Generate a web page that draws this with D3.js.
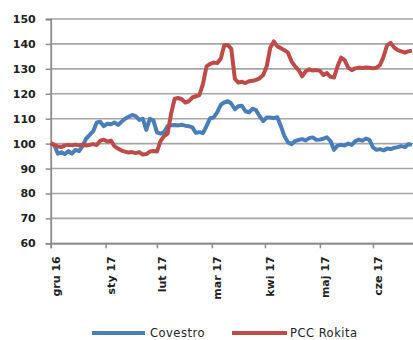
<!DOCTYPE html>
<html><head><meta charset="utf-8">
<script src="https://cdn.jsdelivr.net/npm/d3@7/dist/d3.min.js"></script>
<style>body{margin:0;background:#fff}svg{display:block}</style>
</head><body>
<svg id="c" width="413" height="340"></svg>
<script>
// day index sampled every 2 days from first session (gru 16)
const dayStep = 2;
const covestro = [100,99.5,96,96.5,95.8,97,96,97.5,97,99,102,103.5,105,108.5,108.8,107,108,107.8,108.5,107.5,108.8,110,110.8,111.5,111,109.5,110,105.5,110,109.3,104.5,104,104.6,107,107.4,107.5,107.3,107.6,107.2,107,106.5,104.3,104.6,104.2,107,110.2,110.5,112.5,115.5,116.5,117,116,113.8,115,115.2,113,112.6,114,113.4,111,109,110.5,110.5,110.2,110.6,107,103,100.5,99.8,101,101.5,101.8,101.3,102.2,102.5,101.5,101.6,102,102.5,101,97.5,99.2,99.5,99.2,100,99.5,101,101.6,101.2,102,101.5,98.5,97.5,97.8,97.3,98,97.8,98.3,98.6,99,98.6,99.8,99.5];
const pccRokita = [100.2,99.5,98.8,98.6,99.3,99.5,99.3,99.6,99.3,99.6,99.2,99.5,99.8,99.4,101.2,101.6,100.8,101.2,99,98,97.2,96.8,96.4,96.6,96.2,96.6,95.6,95.8,96.8,97,96.8,101,103,104,112,118,118.3,117.8,116.5,117,118.5,119,119.5,124,131,132,132.5,132.3,134,139.5,139.6,138,126,124.5,124.8,124.3,125,125.2,125.6,126.2,127.5,131,138.5,141,139,138.3,137.5,136.5,133,131,129.5,127,129,129.8,129.3,129.5,129.2,127.5,128.3,126.8,126.5,131,134.5,133.5,130.5,129.5,130.2,130.5,130.3,130.5,130.4,130.2,130.5,131.5,135,139.5,140.4,138.5,137.5,137,136.5,137,137.3];
const seriesNames = ["Covestro","PCC Rokita"];
const monthLabels = ["gru 16","sty 17","lut 17","mar 17","kwi 17","maj 17","cze 17"];
const monthDays = [0,31,60,91,121,152,182];
const yTicks = [60,70,80,90,100,110,120,130,140,150];
const colors = ["#4a7ebb","#be4b48"];

const svg = d3.select("#c");
const x = d3.scaleLinear().domain([0,205]).range([50.7,413.7]);
const y = d3.scaleLinear().domain([60,150]).range([243.3,19]);
const font = "DejaVu Sans";

// gridlines
svg.append("g").selectAll("line").data(yTicks).join("line")
  .attr("x1",x(0)).attr("x2",413).attr("y1",d=>y(d)).attr("y2",d=>y(d))
  .attr("stroke","#a6a6a6").attr("stroke-width",1.6);

// y axis
const ya = svg.append("g").attr("transform",`translate(${x(0)},0)`)
  .call(d3.axisLeft(y).tickValues(yTicks).tickSize(5).tickPadding(10));
ya.select(".domain").attr("stroke","#8c8c8c").attr("stroke-width",1.8);
ya.selectAll(".tick line").attr("stroke","#8c8c8c").attr("stroke-width",1.5);
ya.selectAll("text").attr("font-family",font).attr("font-size","11px").attr("font-weight","bold").attr("fill","#222");

// x axis
const xa = svg.append("g").attr("transform",`translate(0,${y(60)})`)
  .call(d3.axisBottom(x).tickValues(monthDays).tickSize(5).tickFormat((d,i)=>monthLabels[i]));
xa.select(".domain").attr("stroke","#8c8c8c").attr("stroke-width",1.8);
xa.selectAll(".tick line").attr("stroke","#8c8c8c").attr("stroke-width",1.5);
xa.selectAll("text").attr("font-family",font).attr("font-size","11px").attr("font-weight","bold").attr("fill","#222")
  .attr("text-anchor","end").attr("transform","translate(5,13) rotate(-90)").attr("x",0).attr("y",0).attr("dy","0.35em");

// lines
const line = d3.line().x((d,i)=>x(i*dayStep)).y(d=>y(d));
[covestro,pccRokita].forEach((s,k)=>{
  svg.append("path").datum(s).attr("d",line).attr("fill","none")
    .attr("stroke",colors[k]).attr("stroke-width",4).attr("stroke-linejoin","round");
});

// legend
const lg = [{x1:92,x2:145,tx:150},{x1:232,x2:287,tx:290}];
lg.forEach((p,k)=>{
  svg.append("line").attr("x1",p.x1).attr("x2",p.x2).attr("y1",333).attr("y2",333)
    .attr("stroke",colors[k]).attr("stroke-width",4);
  svg.append("text").attr("x",p.tx).attr("y",333).attr("dy","0.35em")
    .attr("font-family",font).attr("font-size","11.5px").attr("letter-spacing","0.5px")
    .attr("fill","#222").text(seriesNames[k]);
});
</script>
</body></html>
